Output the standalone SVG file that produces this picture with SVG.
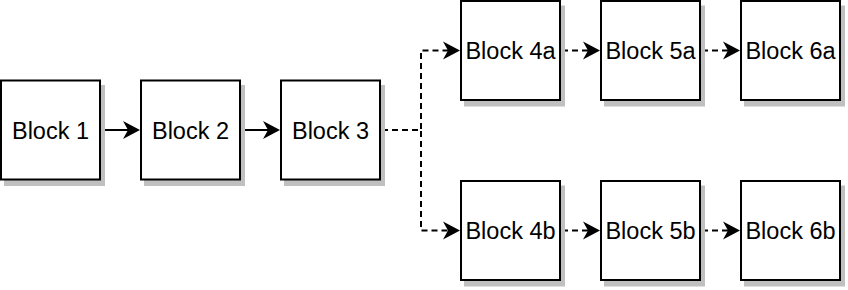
<svg xmlns="http://www.w3.org/2000/svg" width="848" height="290" viewBox="0 0 848 290">
<style>
.shadow{fill:#c0c0c0;stroke:none}
.box{fill:#ffffff;stroke:#000000;stroke-width:2}
.lbl{font-family:"Liberation Sans",Arial,sans-serif;font-size:23.5px;fill:#000000;text-anchor:middle}
.edge{fill:none;stroke:#000000;stroke-width:2}
.dash{stroke-dasharray:6 4}
</style>
<defs>
<marker id="arr" markerUnits="userSpaceOnUse" viewBox="0 -9 17 18" markerWidth="17" markerHeight="18" refX="5" refY="0" orient="auto" overflow="visible">
<path d="M0,-9 L17,0 L0,9 L5,0 Z" fill="#000000" stroke="none"/>
</marker>
</defs>
<g id="connectors">
<path class="edge" d="M102,130 H128" marker-end="url(#arr)"/>
<path class="edge" d="M242,130 H268" marker-end="url(#arr)"/>
<path class="edge dash" d="M382,130 H421 V50.5 H448" marker-end="url(#arr)"/>
<path class="edge dash" d="M382,130 H421 V230.5 H448" marker-end="url(#arr)"/>
<path class="edge dash" d="M562,50.5 H588" marker-end="url(#arr)"/>
<path class="edge dash" d="M702,50.5 H728" marker-end="url(#arr)"/>
<path class="edge dash" d="M562,230.5 H588" marker-end="url(#arr)"/>
<path class="edge dash" d="M702,230.5 H728" marker-end="url(#arr)"/>
</g>
<g id="block1"><rect class="shadow" x="4" y="85" width="101" height="101"/><rect class="box" x="1" y="80.5" width="99" height="99"/><text class="lbl" x="50.5" y="138.5">Block 1</text></g>
<g id="block2"><rect class="shadow" x="144" y="85" width="101" height="101"/><rect class="box" x="141" y="80.5" width="99" height="99"/><text class="lbl" x="190.5" y="138.5">Block 2</text></g>
<g id="block3"><rect class="shadow" x="284" y="85" width="101" height="101"/><rect class="box" x="281" y="80.5" width="99" height="99"/><text class="lbl" x="330.5" y="138.5">Block 3</text></g>
<g id="block4a"><rect class="shadow" x="464" y="5.5" width="101" height="101"/><rect class="box" x="461" y="1" width="99" height="99"/><text class="lbl" x="510.5" y="59">Block 4a</text></g>
<g id="block5a"><rect class="shadow" x="604" y="5.5" width="101" height="101"/><rect class="box" x="601" y="1" width="99" height="99"/><text class="lbl" x="650.5" y="59">Block 5a</text></g>
<g id="block6a"><rect class="shadow" x="744" y="5.5" width="101" height="101"/><rect class="box" x="741" y="1" width="99" height="99"/><text class="lbl" x="790.5" y="59">Block 6a</text></g>
<g id="block4b"><rect class="shadow" x="464" y="185.5" width="101" height="101"/><rect class="box" x="461" y="181" width="99" height="99"/><text class="lbl" x="510.5" y="239">Block 4b</text></g>
<g id="block5b"><rect class="shadow" x="604" y="185.5" width="101" height="101"/><rect class="box" x="601" y="181" width="99" height="99"/><text class="lbl" x="650.5" y="239">Block 5b</text></g>
<g id="block6b"><rect class="shadow" x="744" y="185.5" width="101" height="101"/><rect class="box" x="741" y="181" width="99" height="99"/><text class="lbl" x="790.5" y="239">Block 6b</text></g>
</svg>
